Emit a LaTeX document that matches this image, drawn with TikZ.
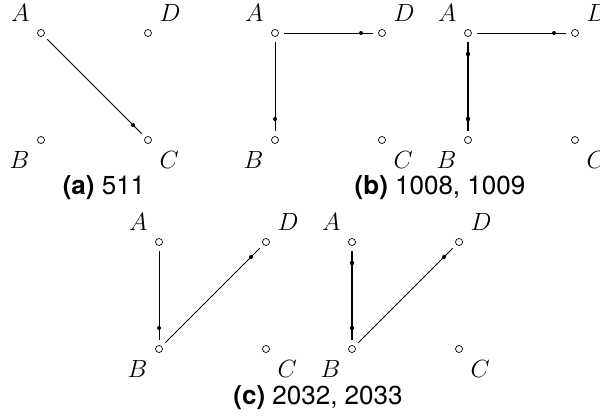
\documentclass[tikz,border=0pt]{standalone}
\usepackage{fontspec}
\setsansfont{TeX Gyre Heros}
\usetikzlibrary{positioning,decorations.markings}

\begin{document}
\begin{tikzpicture}[x=1pt, y=-1pt, on grid, node distance=107pt]
    \tikzstyle{vertex}=[circle, draw, fill=white, line width=0.7pt, inner sep=0pt, minimum size=7pt, outer sep=5.5pt]
    \tikzstyle{lab}=[font=\fontsize{24}{28}\selectfont, inner sep=5pt, label distance=0pt]
    \tikzstyle{caption}=[font=\sffamily\fontsize{26}{30}\selectfont]
    \tikzstyle{edge}=[line width=0.8pt, postaction={decorate}, decoration={markings, mark=at position -12pt with {\fill circle (2pt);}}]
    \tikzstyle{twoway}=[line width=1.4pt, postaction={decorate}, decoration={markings, mark=at position 12pt with {\fill circle (2.2pt);}, mark=at position -12pt with {\fill circle (2.2pt);}}]
    \useasboundingbox (0,0) rectangle (600,419);
    % four vertices in each panel
    \foreach \p/\x/\y in {a/41/33, b/275/33, bb/468/33, c/159/242, cc/352/242} {
      \node[vertex, label={[lab]135:$A$}] (\p A) at (\x,\y) {};
      \node[vertex, right=of \p A, label={[lab]45:$D$}] (\p D) {};
      \node[vertex, below=of \p A, label={[lab]-135:$B$}] (\p B) {};
      \node[vertex, below=of \p D, label={[lab]-45:$C$}] (\p C) {};
    }
    \draw[edge] (aA) -- (aC);
    \draw[edge] (bA) -- (bD);
    \draw[edge] (bA) -- (bB);
    \draw[edge] (bbA) -- (bbD);
    \draw[twoway] (bbA) -- (bbB);
    \draw[edge] (cA) -- (cB);
    \draw[edge] (cB) -- (cD);
    \draw[twoway] (ccA) -- (ccB);
    \draw[edge] (ccB) -- (ccD);
    \node[caption] (capa) at (104,188) {\textbf{(a)} 511};
    \node[caption] (capb) at (440,188) {\textbf{(b)} 1008, 1009};
    \node[caption] (capc) at (318,398) {\textbf{(c)} 2032, 2033};
\end{tikzpicture}
\end{document}
